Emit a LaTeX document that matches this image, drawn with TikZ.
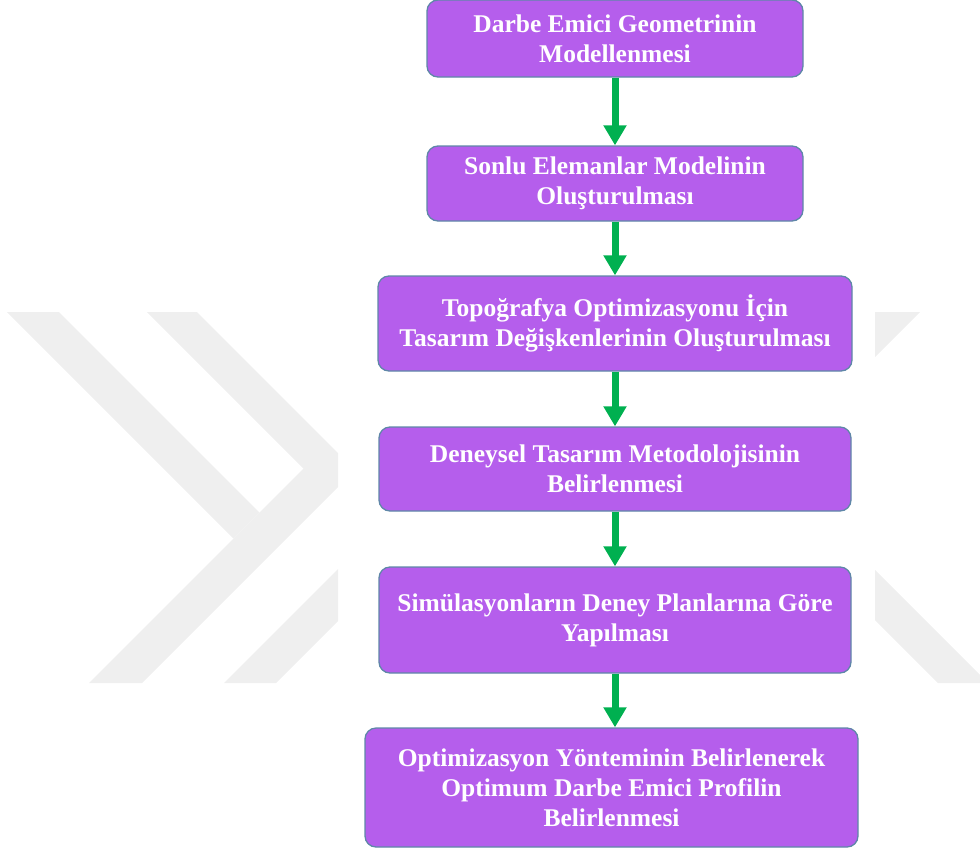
\documentclass[tikz,border=0pt]{standalone}
\usepackage{fontspec}
\setmainfont{Liberation Serif}
\usetikzlibrary{arrows.meta}
\definecolor{boxfill}{HTML}{B55EEC}
\definecolor{boxline}{HTML}{5F87A8}
\definecolor{flowgreen}{HTML}{00B050}
\definecolor{markgray}{HTML}{EFEFEF}
\begin{document}
\begin{tikzpicture}[x=1pt,y=-1pt,
    box/.style={draw=boxline, line width=1.3pt, fill=boxfill, rounded corners=11pt,
      text=white, font=\fontsize{25.5}{30}\selectfont\bfseries, align=center, inner sep=0pt},
    flow/.style={draw=flowgreen, line width=7pt, -{Triangle[width=22pt,length=20pt]}}]
        \useasboundingbox (0,0) rectangle (980,852);
        % watermark
        \begin{scope}
        \clip (0,312) rectangle (338,683) (875,312) rectangle (980,683);
        \fill[markgray] (7,312) -- (59,312) -- (259.5,512.5) -- (233.5,538.5) -- cycle;
        \fill[markgray] (147,312) -- (197,312) -- (355,470) -- (142,683) -- (89,683) -- (303.5,468.5) -- cycle;
        \fill[markgray] (224,683) -- (276,683) -- (576,383) -- (524,383) -- cycle;
        \fill[markgray] (868,312) -- (920,312) -- (800,432) -- (748,432) -- cycle;
        \fill[markgray] (938,683) -- (988,683) -- (788,483) -- (738,483) -- cycle;
        \end{scope}
        % steps
        \node[box, minimum width=376pt, minimum height=77pt] (geom) at (615,38.5) {Darbe Emici Geometrinin\\Modellenmesi};
        \node[box, minimum width=376pt, minimum height=75pt] (fem) at (615,183.5) {Sonlu Elemanlar Modelinin\\Oluşturulması};
        \node[box, minimum width=474pt, minimum height=95pt] (topo) at (615,323.5) {Topoğrafya Optimizasyonu İçin\\Tasarım Değişkenlerinin Oluşturulması};
        \node[box, minimum width=472pt, minimum height=84pt] (doe) at (615,469) {Deneysel Tasarım Metodolojisinin\\Belirlenmesi};
        \node[box, minimum width=472pt, minimum height=106pt] (sim) at (615,620) {Simülasyonların Deney Planlarına Göre\\Yapılması};
        \node[box, minimum width=493pt, minimum height=119pt] (opt) at (611.5,787.5) {Optimizasyon Yönteminin Belirlenerek\\Optimum Darbe Emici Profilin\\Belirlenmesi};
        \draw[flow] (geom.south) -- (fem.north);
        \draw[flow] (fem.south) -- (topo.north);
        \draw[flow] (topo.south) -- (doe.north);
        \draw[flow] (doe.south) -- (sim.north);
        \draw[flow] (sim.south) -- (sim.south |- opt.north);
\end{tikzpicture}
\end{document}
